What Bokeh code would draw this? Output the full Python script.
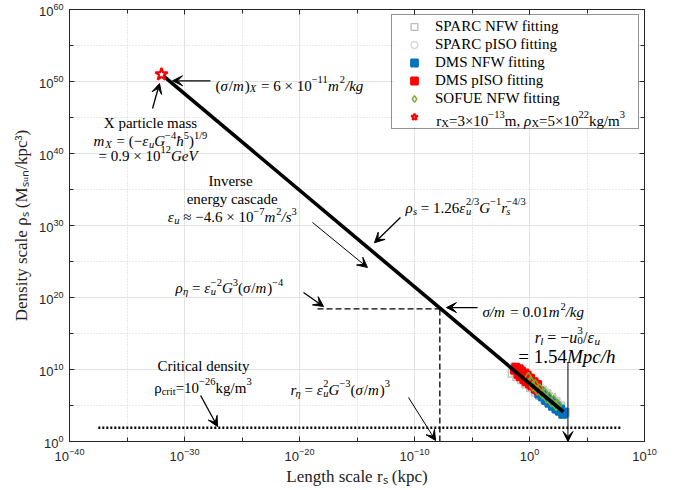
import numpy as np
from bokeh.plotting import figure
from bokeh.models import (Range1d, FixedTicker, LogAxis, CustomJSTickFormatter, Label,
                          Arrow, VeeHead, Legend, LegendItem, BoxAnnotation)
from bokeh.embed import file_html
from bokeh.resources import INLINE

# ---------------- data (log10 values) ----------------
sparc_nfw_log_r = [-1.5, -1.3, -1.1, -0.9, -0.7, -0.5, -0.3, -0.1, 0.1, 0.3, 0.5, 0.7, 0.9, 1.1, 1.3, 1.5, 1.7, 1.9, 2.1, 2.3, 2.5, 2.7, 2.9, 3.1]
sparc_nfw_log_rho = [9.5, 10.2, 9.0, 9.9, 8.6, 9.4, 8.0, 8.9, 7.5, 8.3, 6.9, 7.8, 6.4, 7.1, 5.9, 6.6, 5.4, 6.1, 4.9, 5.5, 4.4, 4.9, 3.8, 4.0]
sparc_piso_log_r = [-1.4, -1.2, -1.0, -0.8, -0.6, -0.4, -0.2, 0.0, 0.2, 0.4, 0.6, 0.8, 1.0, 1.2, 1.4, 1.6, 1.8, 2.0, 2.2, 2.4, 2.6, 2.8]
sparc_piso_log_rho = [10.4, 9.2, 10.1, 8.7, 9.6, 8.2, 9.0, 7.7, 8.6, 7.1, 8.0, 6.6, 7.4, 6.0, 6.9, 5.6, 6.3, 5.0, 5.8, 4.5, 5.1, 4.1]
dms_nfw_log_r = [0.6, 0.8, 0.9, 1.1, 1.2, 1.4, 1.5, 1.7, 1.8, 2.0, 2.1, 2.3, 2.4, 2.6, 2.7, 2.9, 3.0]
dms_nfw_log_rho = [7.2, 6.6, 7.0, 6.2, 6.5, 5.7, 6.1, 5.3, 5.7, 4.9, 5.3, 4.5, 4.9, 4.2, 4.5, 3.8, 4.1]
dms_piso_log_r = [-1.3, -1.2, -1.0, -0.9, -0.8, -0.7, -0.5, -0.4, -0.3, -0.2, 0.0, 0.1, 0.2, 0.4, 0.5, 0.7, 0.8]
dms_piso_log_rho = [9.9, 10.3, 9.3, 10.1, 9.0, 9.8, 8.6, 9.5, 8.3, 9.2, 8.0, 8.8, 7.7, 8.3, 7.3, 7.9, 7.0]
sofue_log_r = [-0.1, 0.1, 0.3, 0.5, 0.7, 0.9, 1.1, 1.3, 1.5, 1.7, 1.9, 2.1, 2.3, 2.5]
sofue_log_rho = [8.9, 8.4, 7.7, 7.9, 7.1, 7.3, 6.6, 6.8, 6.0, 6.2, 5.5, 5.7, 5.0, 5.1]

scaling_r = [1e-32, 9e2]          # rho_s ~ r_s^(-4/3)
scaling_rho = [1e51, 1.3e4]
star_r = [1e-32]
star_rho = [1e51]
eta_r = 1.6e-8                     # sigma/m = 0.01 m^2/kg point
eta_rho = 2.7e18
eta_line_start_r = 3.7e-19
crit_rho = 80.0
crit_r = [3.2e-38, 1.1e8]
rl_r = 2.2e3

x_ticks = [1e-40, 1e-30, 1e-20, 1e-10, 1e0, 1e10]
x_minor = [1e-35, 1e-25, 1e-15, 1e-5, 1e5]
y_ticks = [1e0, 1e10, 1e20, 1e30, 1e40, 1e50, 1e60]
y_minor = [1e5, 1e15, 1e25, 1e35, 1e45, 1e55]

legend_labels = ["SPARC NFW fitting", "SPARC pISO fitting", "DMS NFW fitting",
                 "DMS pISO fitting", "SOFUE NFW fitting", ""]

AX = "#262626"
FRAME_LEFT, FRAME_TOP, FRAME_W, FRAME_H = 69, 9, 575, 432

# ---------------- figure ----------------
W, H = 660, 488
p = figure(width=W, height=H, x_axis_type="log", y_axis_type="log",
           x_range=Range1d(1e-40, 1e10), y_range=Range1d(1e0, 1e60),
           output_backend="svg", toolbar_location=None,
           min_border_left=FRAME_LEFT, min_border_right=W - FRAME_LEFT - FRAME_W,
           min_border_top=FRAME_TOP, min_border_bottom=H - FRAME_TOP - FRAME_H)
p.outline_line_color = AX
p.outline_line_width = 1
p.background_fill_color = "white"
p.border_fill_color = "white"

xt = FixedTicker(ticks=x_ticks, minor_ticks=x_minor)
yt = FixedTicker(ticks=y_ticks, minor_ticks=y_minor)
for ax, t in ((p.below[0], xt), (p.left[0], yt)):
    ax.ticker = t
    ax.major_label_text_font = "Liberation Sans"
    ax.major_label_text_font_size = "13px"
    ax.major_label_text_color = AX
    ax.axis_line_color = AX
    ax.major_tick_line_color = AX
    ax.minor_tick_line_color = AX
    ax.major_tick_in = 5
    ax.major_tick_out = 0
    ax.minor_tick_in = 4
    ax.minor_tick_out = 0
    ax.major_label_standoff = 6
    ax.axis_label_text_font = "Liberation Serif"
    ax.axis_label_text_font_size = "17px"
    ax.axis_label_text_font_style = "normal"
    ax.axis_label_text_color = "#222222"

p.below[0].axis_label = "Length scale r\u209b (kpc)"
p.below[0].axis_label_standoff = 3
p.left[0].axis_label = "Density scale \u03c1\u209b (M\u209b\u1d64\u2099/kpc\u00b3)"
p.left[0].axis_label_standoff = 5

for g in (p.xgrid[0], p.ygrid[0]):
    g.grid_line_color = "#e3e3e3"
    g.grid_line_width = 1
    g.minor_grid_line_color = "#d2d2d2"
    g.minor_grid_line_dash = "1 2"
    g.minor_grid_line_width = 1

top = LogAxis(ticker=xt, formatter=CustomJSTickFormatter(code="return ''"), major_tick_in=5,
              major_tick_out=0, minor_tick_in=4, minor_tick_out=0,
              major_label_text_font_size="0px", major_label_standoff=0,
              axis_line_color=AX, major_tick_line_color=AX, minor_tick_line_color=AX)
right = LogAxis(ticker=yt, formatter=CustomJSTickFormatter(code="return ''"), major_tick_in=5,
                major_tick_out=0, minor_tick_in=4, minor_tick_out=0,
                major_label_text_font_size="0px", major_label_standoff=0,
                axis_line_color=AX, major_tick_line_color=AX, minor_tick_line_color=AX)
p.add_layout(top, "above")
p.add_layout(right, "right")

# ---------------- data marks ----------------
def pw(a):
    return [10.0 ** v for v in a]

r1 = p.scatter(pw(sparc_nfw_log_r), pw(sparc_nfw_log_rho), marker="square", size=8,
               fill_color=None, line_color="#bdbdbd", line_width=1.3)
r2 = p.scatter(pw(sparc_piso_log_r), pw(sparc_piso_log_rho), marker="circle", size=8,
               fill_color=None, line_color="#d4d4d4", line_width=1.3)
r3 = p.scatter(pw(dms_nfw_log_r), pw(dms_nfw_log_rho), marker="square", size=7,
               fill_color="#0072BD", line_color="#0072BD", line_width=2)
r4 = p.scatter(pw(dms_piso_log_r), pw(dms_piso_log_rho), marker="square", size=7,
               fill_color="#FF0000", line_color="#FF0000", line_width=2)
r5 = p.scatter(pw(sofue_log_r), pw(sofue_log_rho), marker="diamond", size=10,
               fill_color=None, line_color="#77AC30", line_width=1.4)

p.line(scaling_r, scaling_rho, line_color="black", line_width=3.6)
p.line([eta_line_start_r, eta_r], [eta_rho, eta_rho], line_color="black", line_width=1.3, line_dash="6 3")
p.line([eta_r, eta_r], [1e0, eta_rho], line_color="black", line_width=1.3, line_dash="6 3")
p.line(crit_r, [crit_rho, crit_rho], line_color="black", line_width=2.4, line_dash="2 2")

r6 = p.scatter(star_r, star_rho, marker="star", size=13, fill_color="white",
               line_color="#FF0000", line_width=2.2)

# white backing for the legend (legend itself is transparent so the rich last label shows)
p.add_layout(BoxAnnotation(left=10 ** -11.8, right=10 ** 9.5, top=10 ** 59.2, bottom=10 ** 43.7,
                           fill_color="white", fill_alpha=1.0, line_color=None))

LEG_MARGIN, LEG_PAD, LEG_ROW, LEG_SP = 5, 3, 17, 1
legend = Legend(items=[LegendItem(label=l, renderers=[r]) for l, r in
                       zip(legend_labels, [r1, r2, r3, r4, r5, r6])],
                location="top_right", margin=LEG_MARGIN, padding=LEG_PAD, spacing=LEG_SP,
                glyph_width=38, glyph_height=LEG_ROW, label_height=LEG_ROW, label_standoff=2,
                label_width=200,
                label_text_font="Liberation Serif", label_text_font_size="15px",
                label_text_color="black", border_line_color=AX, border_line_width=1,
                background_fill_color="white", background_fill_alpha=0.0)
p.add_layout(legend)

# ---------------- rich text annotations ----------------
WID = {" ": 250, "(": 333, ")": 333, "+": 564, ",": 250, "-": 333, ".": 250, "/": 278, "=": 564,
       "\u00d7": 564, "\u2212": 564, "\u2248": 549, "\u03c3": 550, "\u03c1": 500, "\u03b5": 440,
       "\u03b7": 500, "\u0127": 500,
       "A": 722, "B": 667, "C": 667, "D": 722, "E": 611, "F": 556, "G": 722, "H": 722, "I": 333,
       "J": 389, "K": 722, "L": 611, "M": 889, "N": 722, "O": 722, "P": 556, "R": 667, "S": 556,
       "T": 611, "U": 722, "V": 722, "W": 944, "X": 722,
       "a": 444, "b": 500, "c": 444, "d": 500, "e": 444, "f": 333, "g": 500, "h": 500, "i": 278,
       "j": 278, "k": 500, "l": 278, "m": 778, "n": 500, "o": 500, "p": 500, "q": 500, "r": 333,
       "s": 389, "t": 278, "u": 500, "v": 500, "w": 722, "x": 500, "y": 500, "z": 444}


def text_w(s, size):
    return sum(WID.get(c, 500) for c in s) * size / 1000.0


def rich(x, y, parts, size=15.0, align="left", x_units="data", y_units="data"):
    small = 0.7 * size
    items = []
    pos = 0.0
    for t, m in parts:
        s = small if ("^" in m or "_" in m) else size
        lead = len(t) - len(t.lstrip(" "))
        items.append((t.strip(" "), m, s, pos + lead * 0.25 * s))
        if "k" not in m:
            pos += text_w(t, s)
    start = -pos / 2.0 if align == "center" else 0.0
    base = -0.32 * size
    for t, m, s, off in items:
        rise = base + (0.42 * size if "^" in m else (-0.2 * size if "_" in m else 0.0))
        p.add_layout(Label(x=x, y=y, x_units=x_units, y_units=y_units, x_offset=start + off,
                           y_offset=rise, text=t, text_align="left", text_baseline="alphabetic",
                           text_font="Liberation Serif", text_font_size=f"{s:.1f}px",
                           text_font_style="italic" if "i" in m else "normal",
                           text_color="black"))


def L(lx, ly):
    return 10.0 ** lx, 10.0 ** ly


def arrow(a, b, w=1.3):
    p.add_layout(Arrow(x_start=a[0], y_start=a[1], x_end=b[0], y_end=b[1],
                       line_color="black", line_width=w,
                       end=VeeHead(size=10, fill_color="black", line_color="black", line_width=1)))


SIG = [("(", ""), ("\u03c3", "i"), ("/", ""), ("m", "i"), (")", "")]

# legend entry of the star (last legend row)
rich(*L(-8.1, 45.25),
     [("r", ""), ("X", "_"), ("=3\u00d710", ""), ("\u221213", "^"), ("m, ", ""), ("\u03c1", "i"),
      ("X", "_"), ("=5\u00d710", ""), ("22", "^"), ("kg/m", ""), ("3", "^")])

# (sigma/m)_X
rich(*L(-27.3, 50.1), [("(", ""), ("\u03c3", "i"), ("/", ""), ("m", "i"), (")", ""), ("X", "_i"),
                       (" = 6 \u00d7 10", ""), ("\u221211", "^"), ("m", "i"), ("2", "^"), ("/kg", "i")])
arrow(L(-27.74, 50.1), L(-31.04, 50.1))

# X particle mass
rich(*L(-32.96, 44.86), [("X particle mass", "")], align="center")
rich(*L(-32.96, 42.36), [("m", "i"), ("X", "_i"), (" = (\u2212", ""), ("\u03b5", "i"), ("u", "_i"),
                         ("G", "i"), ("\u22124", "^"), ("\u0127", "i"), ("5", "^"), (")", ""),
                         ("1/9", "^")], align="center")
rich(*L(-33.1, 40.28), [("= 0.9 \u00d7 10", ""), ("12", "^"), ("GeV", "i")], align="center")
arrow(L(-32.78, 46.25), L(-32.17, 49.72))

# Inverse energy cascade
rich(*L(-26.0, 36.8), [("Inverse", "")], align="center")
rich(*L(-25.85, 34.3), [("energy cascade", "")], align="center")
rich(*L(-25.85, 31.8), [("\u03b5", "i"), ("u", "_i"), (" \u2248 \u22124.6 \u00d7 10", ""),
                        ("\u22127", "^"), ("m", "i"), ("2", "^"), ("/s", "i"), ("3", "^")],
     align="center")
arrow(L(-18.87, 30.42), L(-14.09, 24.17), w=1.0)

# rho_s scaling
rich(*L(-10.78, 33.06), [("\u03c1", "i"), ("s", "_i"), (" = 1.26", ""), ("\u03b5", "i"), ("u", "_ik"),
                         ("2/3", "^"), ("G", "i"), ("\u22121", "^"), ("r", "i"), ("s", "_ik"),
                         ("\u22124/3", "^")])
arrow(L(-11.22, 31.1), L(-13.48, 27.6))

# rho_eta
rich(*L(-30.78, 21.94), [("\u03c1", "i"), ("\u03b7", "_i"), (" = ", ""), ("\u03b5", "i"), ("u", "_ik"),
                         ("\u22122", "^"), ("G", "i"), ("3", "^")] + SIG + [("\u22124", "^")])
arrow(L(-19.65, 20.69), L(-17.91, 18.75))

# sigma/m = 0.01
rich(*L(-4.09, 18.6), [("\u03c3/m", "i"), (" = 0.01", ""), ("m", "i"), ("2", "^"), ("/kg", "i")])
arrow(L(-4.52, 18.6), L(-7.22, 18.6))

# r_l
rich(*L(3.3, 15.14), [("r", "i"), ("l", "_i"), (" = \u2212", ""), ("u", "i"), ("0", "_k"), ("3", "^"),
                      ("/", ""), ("\u03b5", "i"), ("u", "_i")], size=16, align="center")
rich(*L(3.3, 12.64), [("= 1.54", ""), ("Mpc/h", "i")], size=19, align="center")
arrow((rl_r, 10 ** 10.97), (rl_r, 1e0), w=1.0)

# critical density
rich(*L(-28.35, 11.1), [("Critical density", "")], align="center")
rich(*L(-28.4, 8.06), [("\u03c1", ""), ("crit", "_"), ("=10", ""), ("\u221226", "^"), ("kg/m", ""),
                       ("3", "^")], align="center")
arrow(L(-28.6, 6.39), L(-27.13, 2.08))

# r_eta
rich(*L(-20.78, 7.78), [("r", "i"), ("\u03b7", "_i"), (" = ", ""), ("\u03b5", "i"), ("u", "_ik"),
                        ("2", "^"), ("G", "i"), ("\u22123", "^")] + SIG + [("3", "^")])
arrow(L(-10.52, 6.11), L(-8.17, 0.14), w=1.0)

open("out.html", "w").write(file_html(p, INLINE))
